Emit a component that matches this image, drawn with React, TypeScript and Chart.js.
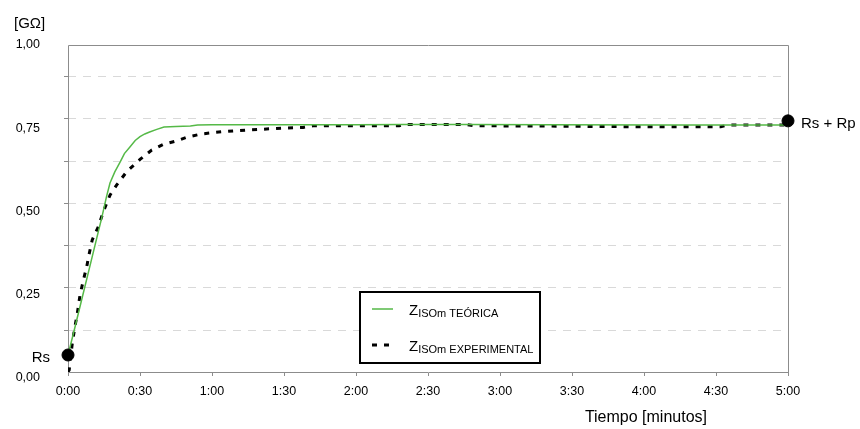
import React, { useEffect, useRef } from "react";
import { Chart, registerables } from "chart.js";

Chart.register(...registerables);

// ---- data ----
const theoTime = [0, 3, 6, 9, 12, 14, 16, 17.5, 19.5, 21.7, 23.5, 25.8, 28, 30, 32, 34, 37, 40, 45, 51, 54, 60, 90, 120, 140, 166, 200, 250, 300];
const theoZ = [0.052, 0.14, 0.23, 0.32, 0.41, 0.47, 0.535, 0.578, 0.612, 0.642, 0.668, 0.688, 0.708, 0.72, 0.728, 0.734, 0.742, 0.749, 0.751, 0.752, 0.755, 0.756, 0.756, 0.756, 0.757, 0.757, 0.756, 0.755, 0.755];

const expTime = [0, 0.5, 1.8, 2.9, 3.9, 5, 6.4, 7.8, 8.9, 10.1, 12.6, 14.7, 17.5, 20.3, 24.5, 30, 34.9, 39.7, 45.3, 49.5, 55.7, 60.5, 64.7, 70.3, 74.5, 80, 90, 98, 102, 138, 140, 166, 169, 200, 238, 272, 275, 300];
const expZ = [0, 0.006, 0.089, 0.139, 0.18, 0.235, 0.281, 0.322, 0.364, 0.404, 0.444, 0.49, 0.541, 0.572, 0.613, 0.65, 0.679, 0.696, 0.707, 0.718, 0.728, 0.732, 0.735, 0.738, 0.74, 0.742, 0.746, 0.748, 0.753, 0.753, 0.757, 0.757, 0.753, 0.752, 0.75, 0.75, 0.755, 0.755];

const markerTime = [0, 300];
const markerZ = [0.052, 0.768];
const markerLabels = ["Rs", "Rs + Rp"];

const xTickValues = [0, 30, 60, 90, 120, 150, 180, 210, 240, 270, 300];
const yLabelValues = [0, 0.25, 0.5, 0.75, 1];
const yGridValues = [0.128, 0.258, 0.388, 0.516, 0.645, 0.776, 0.903];

const yUnit = "[GΩ]";
const xTitle = "Tiempo [minutos]";
const legendMain = "Z";
const legendSubs = ["ISOm TEÓRICA", "ISOm EXPERIMENTAL"];

const FONT = '"Liberation Sans", Arial, sans-serif';
const GRAY = "#8c8c8c";

const fmtTime = (v: number) => `${Math.floor(v / 60)}:${String(Math.round(v % 60)).padStart(2, "0")}`;

const decorPlugin = {
  id: "decor",
  beforeDatasetsDraw(chart: any) {
    const { ctx, chartArea: a } = chart;
    ctx.save();
    ctx.strokeStyle = GRAY;
    ctx.lineWidth = 1;
    ctx.setLineDash([]);
    ctx.beginPath();
    ctx.moveTo(a.left + 0.5, a.bottom);
    ctx.lineTo(a.left + 0.5, a.top + 0.5);
    ctx.lineTo(a.right + 0.5, a.top + 0.5);
    ctx.lineTo(a.right + 0.5, a.bottom);
    ctx.stroke();
    ctx.restore();
  },
  afterDraw(chart: any) {
    const { ctx } = chart;
    const xs = chart.scales.x;
    const ys = chart.scales.y;
    ctx.save();
    ctx.fillStyle = "#000";
    ctx.textBaseline = "alphabetic";
    ctx.font = `15px ${FONT}`;
    ctx.textAlign = "left";
    ctx.fillText(yUnit, 14, 28);

    // marker labels
    const p0x = xs.getPixelForValue(markerTime[0]);
    const p0y = ys.getPixelForValue(markerZ[0]);
    ctx.textAlign = "right";
    ctx.fillText(markerLabels[0], p0x - 18, p0y + 7);
    const p1x = xs.getPixelForValue(markerTime[1]);
    const p1y = ys.getPixelForValue(markerZ[1]);
    ctx.textAlign = "left";
    ctx.fillText(markerLabels[1], p1x + 13, p1y + 7);

    // x title
    ctx.font = `16px ${FONT}`;
    ctx.textAlign = "right";
    ctx.fillText(xTitle, 707, 422);

    // legend
    const bx = 360, by = 292, bw = 180, bh = 71;
    ctx.fillStyle = "#fff";
    ctx.fillRect(bx, by, bw, bh);
    ctx.strokeStyle = "#000";
    ctx.lineWidth = 2;
    ctx.strokeRect(bx, by, bw, bh);
    const dsets = chart.data.datasets;
    const rows = [309, 345];
    [dsets[1], dsets[2]].forEach((ds: any, i: number) => {
      const ly = rows[i];
      ctx.save();
      ctx.strokeStyle = ds.borderColor;
      ctx.lineWidth = ds.borderWidth;
      ctx.setLineDash(ds.borderDash || []);
      ctx.lineCap = "butt";
      ctx.beginPath();
      ctx.moveTo(372, ly);
      ctx.lineTo(393, ly);
      ctx.stroke();
      ctx.restore();
      ctx.fillStyle = "#000";
      ctx.textAlign = "left";
      ctx.font = `15px ${FONT}`;
      ctx.fillText(legendMain, 409, ly + 6);
      const zw = ctx.measureText(legendMain).width;
      ctx.font = `11px ${FONT}`;
      ctx.fillText(legendSubs[i], 409 + zw, ly + 8);
    });
    ctx.restore();
  },
};

export default function App() {
  const ref = useRef<HTMLCanvasElement>(null);
  useEffect(() => {
    if (!ref.current) return;
    Chart.defaults.font.family = FONT;
    const chart = new Chart(ref.current, {
      type: "line",
      data: {
        datasets: [
          {
            type: "scatter",
            label: "markers",
            data: markerTime.map((t, i) => ({ x: t, y: markerZ[i] })),
            pointRadius: 6,
            pointBackgroundColor: "#000",
            pointBorderColor: "#000",
            showLine: false,
            clip: false,
            order: 0,
          } as any,
          {
            label: "teorica",
            data: theoTime.map((t, i) => ({ x: t, y: theoZ[i] })),
            borderColor: "#55b947",
            borderWidth: 1.5,
            pointRadius: 0,
            tension: 0,
            order: 1,
          },
          {
            label: "experimental",
            data: expTime.map((t, i) => ({ x: t, y: expZ[i] })),
            borderColor: "#000",
            borderWidth: 3,
            borderDash: [5, 7],
            borderCapStyle: "butt",
            pointRadius: 0,
            tension: 0,
            order: 2,
          },
        ],
      },
      options: {
        animation: false,
        responsive: false,
        devicePixelRatio: 1,
        layout: { padding: { top: 45, right: 72, left: 0, bottom: 0 } },
        plugins: { legend: { display: false }, tooltip: { enabled: false } },
        scales: {
          x: {
            type: "linear",
            min: 0,
            max: 300,
            afterBuildTicks: (s: any) => {
              s.ticks = xTickValues.map((v) => ({ value: v }));
            },
            afterFit: (s: any) => {
              s.height = 57;
            },
            ticks: {
              callback: (v: any) => fmtTime(Number(v)),
              color: "#000",
              font: { size: 12.5 },
              padding: 8,
              maxRotation: 0,
              autoSkip: false,
            },
            grid: {
              drawOnChartArea: false,
              drawTicks: true,
              tickLength: 4,
              tickColor: GRAY,
            },
            border: { color: GRAY, width: 1 },
          },
          y: {
            type: "linear",
            position: "left",
            weight: 0,
            min: 0,
            max: 1,
            afterBuildTicks: (s: any) => {
              s.ticks = yGridValues.map((v) => ({ value: v }));
            },
            afterFit: (s: any) => {
              s.width = 0;
            },
            ticks: { display: false },
            grid: {
              color: "#d9d9d9",
              tickBorderDash: [],
              tickColor: GRAY,
              tickLength: 4,
              drawTicks: true,
            } as any,
            border: { display: false, dash: [8, 7] },
          },
          yl: {
            type: "linear",
            position: "left",
            weight: 1,
            min: 0.018,
            max: 1,
            afterBuildTicks: (s: any) => {
              s.ticks = yLabelValues.map((v) => ({ value: v }));
            },
            afterFit: (s: any) => {
              s.width = 68;
            },
            ticks: {
              callback: (v: any) => Number(v).toFixed(2).replace(".", ","),
              color: "#000",
              font: { size: 12.5 },
              padding: 20,
              autoSkip: false,
            },
            grid: { display: false },
            border: { display: false },
          },
        },
      } as any,
      plugins: [decorPlugin],
    });
    return () => chart.destroy();
  }, []);
  return (
    <div style={{ position: "absolute", left: 0, top: 0, width: 860, height: 429, background: "#fff" }}>
      <canvas ref={ref} width={860} height={429} style={{ width: 860, height: 429, display: "block" }} />
    </div>
  );
}
